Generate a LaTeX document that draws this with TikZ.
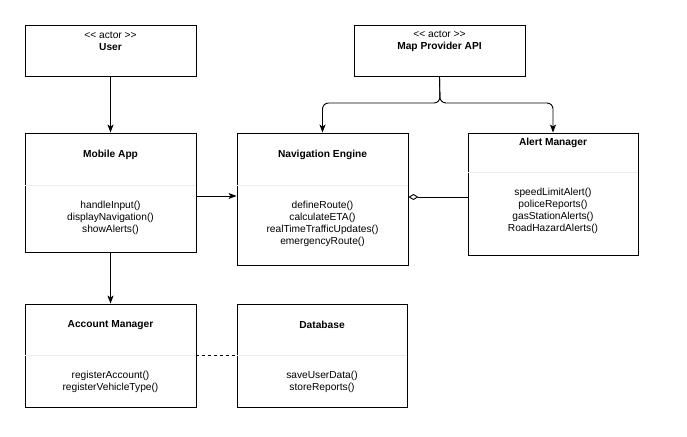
\documentclass[tikz,border=0pt]{standalone}
\usepackage{fontspec}
\setmainfont{Liberation Sans}
\usetikzlibrary{arrows.meta}
\tikzset{
  box/.style={draw, rectangle, inner sep=0pt, minimum width=171pt},
  sep/.style={draw=black!7, line width=0.8pt},
  arr/.style={-{Stealth[length=8pt,width=6pt,inset=2pt]}},
  txt/.style={align=center, inner sep=0pt, font=\fontsize{10.2}{12}\selectfont},
  ttl/.style={txt, font=\fontsize{10.2}{12}\selectfont\bfseries},
}
\newcommand{\actor}{<\kern0pt< actor >\kern0pt>}
\begin{document}
\begin{tikzpicture}[x=1pt,y=-1pt,line width=0.9pt]
        \useasboundingbox (0,0) rectangle (687,436);
        %% Actors
        \node[box,minimum height=51pt] (user) at (110.5,50.5) {};
        \node[txt] at (110.5,41) {\actor\\\textbf{User}};
        \node[box,minimum height=51pt] (map) at (439.5,50.5) {};
        \node[txt] at (439.5,41) {\actor\\\textbf{Map Provider API}};
        %% Classes
        \node[box,minimum height=119pt] (mobile) at (110.5,192.5) {};
        \node[box,minimum height=132pt] (nav) at (322.5,199) {};
        \node[box,minimum height=122pt,minimum width=170pt] (alert) at (553,194) {};
        \node[box,minimum height=103pt] (account) at (110.5,355.5) {};
        \node[box,minimum height=103pt,minimum width=170pt] (db) at (322,355.5) {};
        %% Separators
        \foreach \b/\y in {mobile/185,nav/185,alert/172,account/355,db/355}
            \draw[sep] (\b.west |- 0,\y) -- (\b.east |- 0,\y);
        %% Titles
        \node[ttl] at (110.5,155) {Mobile App};
        \node[ttl] at (322.5,155) {Navigation Engine};
        \node[ttl] at (553,143) {Alert Manager};
        \node[ttl] at (110.5,325) {Account Manager};
        \node[ttl] at (322,325) {Database};
        %% Methods
        \node[txt] at (110.5,218) {handleInput()\\displayNavigation()\\showAlerts()};
        \node[txt] at (322.5,223.5) {defineRoute()\\calculateETA()\\realTimeTrafficUpdates()\\emergencyRoute()};
        \node[txt] at (553,210.5) {speedLimitAlert()\\policeReports()\\gasStationAlerts()\\RoadHazardAlerts()};
        \node[txt] at (110.5,382) {registerAccount()\\registerVehicleType()};
        \node[txt] at (322,382) {saveUserData()\\storeReports()};
        %% Connectors
        \draw[arr] (user) -- (mobile);
        \draw[arr] (mobile) -- (account);
        \draw[arr] (mobile.east |- 0,196) -- (nav.west |- 0,196);
        \draw[-{Diamond[open,length=10pt,width=6pt]}] (alert.west |- 0,197) -- (nav.east |- 0,197);
        \draw[dash pattern=on 3pt off 3pt] (account.east |- 0,355) -- (db.west |- 0,355);
        \coordinate (split) at (440,103);
        \draw[arr,rounded corners=6pt] (map.south) -- (split) -| (nav.north);
        \draw[arr,rounded corners=6pt] (map.south) -- (split) -| (alert.north);
    \end{tikzpicture}
\end{document}
